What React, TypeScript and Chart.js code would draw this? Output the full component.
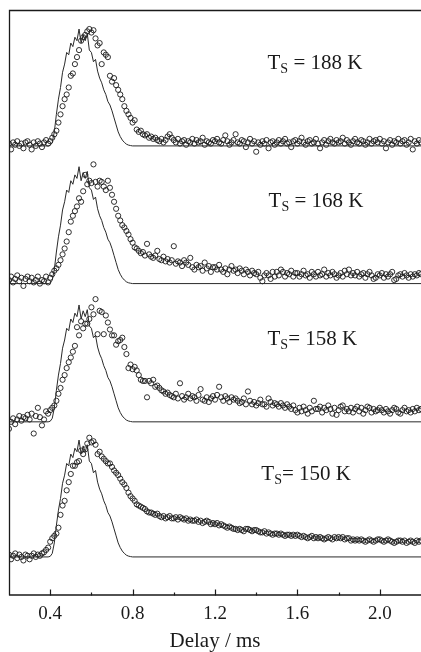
import React, { useEffect, useRef } from "react";
import { Chart, registerables } from "chart.js";

Chart.register(...registerables);

// ---- data ----
const panelLabels = ["188 K", "168 K", "158 K", "150 K"];
const panelEquals = [" = ", " = ", "= ", "= "];
const panelOffsets = [3.517, 2.339, 1.156, 0];

// circles are sampled on a regular delay grid (ms)
const delayStart = 0.2;
const delayStep = 0.01;

// incident pulse profile (solid line), same in every panel
const pulseDelay = [
  0.2, 0.39, 0.4, 0.41, 0.42, 0.43, 0.44, 0.45, 0.46, 0.47, 0.48, 0.49,
  0.5, 0.51, 0.52, 0.53, 0.54, 0.55, 0.56, 0.57, 0.58, 0.59,
  0.6, 0.61, 0.62, 0.63, 0.64, 0.65, 0.66, 0.67, 0.68, 0.69,
  0.7, 0.71, 0.72, 0.73, 0.74, 0.75, 0.76, 0.77, 0.78, 0.79, 0.8, 2.2,
];
const pulseValue = [
  0, 0, 0.005, 0.03, 0.12, 0.27, 0.4, 0.5, 0.63, 0.7, 0.8, 0.78,
  0.88, 0.85, 0.93, 0.9, 1.0, 0.88, 0.95, 0.9, 0.96, 0.82,
  0.8, 0.72, 0.74, 0.64, 0.58, 0.54, 0.48, 0.44, 0.38, 0.35,
  0.3, 0.24, 0.18, 0.12, 0.08, 0.05, 0.03, 0.015, 0.007, 0.003, 0, 0,
];

const signal188 = [
  0.02, -0.03, 0.03, 0.01, 0.04, 0.0, 0.02, -0.02, 0.03, 0.04,
  0.01, -0.03, 0.03, 0.0, 0.04, 0.02, -0.01, 0.03, 0.05, 0.02,
  0.04, 0.07, 0.1, 0.13, 0.2, 0.27, 0.34, 0.4, 0.44, 0.5,
  0.6, 0.62, 0.7, 0.76, 0.82, 0.9, 0.93, 0.95, 0.98, 1.0,
  0.97, 0.99, 0.92, 0.86, 0.88, 0.7, 0.8, 0.78, 0.76, 0.6,
  0.55, 0.58, 0.52, 0.48, 0.44, 0.4, 0.34, 0.3, 0.27, 0.24,
  0.2, 0.22, 0.14, 0.12, 0.13, 0.1, 0.09, 0.1, 0.07, 0.08,
  0.06, 0.07, 0.05, 0.04, 0.06, 0.03, 0.05, 0.08, 0.1, 0.07,
  0.05, 0.03, 0.06, 0.02, 0.04, 0.05, 0.01, 0.04, 0.03, 0.06,
  0.02, 0.05, 0.03, 0.04, 0.07, 0.01, 0.04, 0.03, 0.02, 0.05,
  0.04, 0.06, 0.03, 0.02, 0.05, 0.09, 0.04, 0.01, 0.03, 0.05,
  0.1, 0.03, 0.02, 0.05, 0.04, -0.01, 0.03, 0.06, 0.02, 0.04,
  -0.05, 0.03, 0.01, 0.04, 0.02, 0.05, -0.02, 0.03, 0.04, 0.01,
  0.03, 0.05, 0.02, 0.04, 0.06, 0.02, 0.03, -0.01, 0.04, 0.05,
  0.02, 0.04, 0.07, 0.03, 0.01, 0.04, 0.05, 0.02, 0.03, 0.06,
  0.02, -0.02, 0.03, 0.05, 0.01, 0.04, 0.06, 0.03, 0.02, 0.05,
  0.03, 0.04, 0.07, 0.02, 0.05, 0.03, 0.01, 0.04, 0.06, 0.03,
  0.02, 0.05, 0.04, 0.01, 0.03, 0.06, 0.02, 0.04, 0.05, 0.03,
  0.06, 0.02, 0.04, -0.02, 0.03, 0.05, 0.01, 0.04, 0.03, 0.06,
  0.02, 0.04, 0.05, 0.01, 0.03, 0.06, -0.03, 0.04, 0.02, 0.05,
  0.03,
];

const signal168 = [
  0.03, 0.06, 0.01, 0.04, 0.07, 0.02, 0.05, -0.02, 0.04, 0.06,
  0.02, 0.05, 0.01, 0.03, 0.06, 0.0, 0.03, 0.02, 0.06, 0.01,
  0.05, 0.08, 0.11, 0.13, 0.16, 0.2, 0.25, 0.3, 0.36, 0.44,
  0.53, 0.58, 0.62, 0.66, 0.73, 0.7, 0.79, 0.93, 0.85, 0.88,
  0.86, 1.02, 0.87, 0.83, 0.88, 0.87, 0.83, 0.8, 0.88, 0.82,
  0.76, 0.7, 0.64, 0.58, 0.54, 0.5, 0.48, 0.45, 0.42, 0.38,
  0.35, 0.31, 0.3, 0.28, 0.26, 0.27, 0.24, 0.34, 0.25, 0.23,
  0.22, 0.24, 0.28, 0.21, 0.2, 0.23, 0.19, 0.21, 0.18, 0.2,
  0.32, 0.17, 0.19, 0.18, 0.15, 0.2, 0.18, 0.16, 0.22, 0.14,
  0.12, 0.16, 0.14, 0.15, 0.11, 0.18, 0.13, 0.15, 0.1, 0.14,
  0.14, 0.12, 0.16, 0.12, 0.1, 0.13, 0.08, 0.12, 0.15, 0.11,
  0.12, 0.09, 0.13, 0.11, 0.08, 0.12, 0.1, 0.07, 0.11, 0.09,
  0.08, 0.1, 0.05, 0.02, 0.07, 0.09, 0.07, 0.04, 0.1, 0.06,
  0.1, 0.07, 0.12, 0.1, 0.06, 0.09, 0.08, 0.11, 0.06, 0.09,
  0.09, 0.06, 0.08, 0.11, 0.07, 0.08, 0.05, 0.1, 0.08, 0.06,
  0.1, 0.07, 0.08, 0.12, 0.06, 0.09, 0.07, 0.1, 0.08, 0.05,
  0.07, 0.09, 0.06, 0.11, 0.08, 0.12, 0.07, 0.09, 0.07, 0.1,
  0.06, 0.08, 0.09, 0.05, 0.08, 0.1, 0.07, 0.04, 0.05, 0.08,
  0.07, 0.09, 0.05, 0.08, 0.06, 0.08, 0.1, 0.03, 0.04, 0.07,
  0.08, 0.06, 0.09, 0.07, 0.05, 0.08, 0.06, 0.08, 0.07, 0.09,
  0.08,
];

const signal158 = [
  -0.06, 0.0, 0.03, -0.02, 0.02, 0.05, 0.01, 0.04, 0.03, 0.06,
  0.02, 0.07, -0.1, 0.05, 0.12, 0.04, -0.03, 0.02, 0.09, 0.07,
  0.1, 0.12, 0.14, 0.18, 0.24, 0.29, 0.36, 0.4, 0.46, 0.51,
  0.55, 0.6, 0.65, 0.81, 0.74, 0.86, 0.8, 0.84, 0.84, 0.88,
  0.98, 0.92, 1.05, 0.75, 0.95, 0.94, 0.75, 0.91, 0.85, 0.79,
  0.74, 0.74, 0.66, 0.69, 0.7, 0.72, 0.64, 0.58, 0.46, 0.49,
  0.45, 0.47, 0.44, 0.4, 0.36, 0.35, 0.35, 0.21, 0.35, 0.33,
  0.36, 0.3, 0.31, 0.29, 0.27, 0.26, 0.24, 0.25, 0.23, 0.22,
  0.21, 0.24, 0.2, 0.33, 0.22, 0.19, 0.21, 0.24, 0.2, 0.22,
  0.21, 0.18, 0.23, 0.28, 0.19, 0.18, 0.21, 0.17, 0.2, 0.22,
  0.19, 0.23, 0.3, 0.21, 0.18, 0.22, 0.2, 0.17, 0.21, 0.19,
  0.2, 0.18, 0.16, 0.17, 0.2, 0.15, 0.26, 0.18, 0.15, 0.17,
  0.14, 0.16, 0.19, 0.15, 0.15, 0.13, 0.2, 0.17, 0.14, 0.16,
  0.15, 0.13, 0.16, 0.14, 0.12, 0.15, 0.13, 0.11, 0.14, 0.1,
  0.08, 0.12, 0.09, 0.13, 0.1, 0.07, 0.12, 0.09, 0.18, 0.11,
  0.11, 0.13, 0.08, 0.12, 0.1, 0.14, 0.11, 0.07, 0.12, 0.06,
  0.1, 0.13, 0.14, 0.09, 0.11, 0.09, 0.12, 0.08, 0.11, 0.13,
  0.09, 0.12, 0.07, 0.1, 0.13, 0.12, 0.08, 0.11, 0.09, 0.1,
  0.12, 0.1, 0.08, 0.11, 0.09, 0.07, 0.1, 0.12, 0.11, 0.08,
  0.07, 0.1, 0.12, 0.09, 0.1, 0.08, 0.11, 0.09, 0.12, 0.1,
  0.11,
];

const signal150 = [
  0.02, -0.02, 0.01, 0.03, -0.01, 0.02, 0.0, -0.03, 0.02, 0.01,
  -0.02, 0.01, 0.03, 0.0, 0.02, 0.01, 0.03, 0.04, 0.06, 0.08,
  0.13, 0.16, 0.18, 0.2, 0.25, 0.36, 0.44, 0.48, 0.57, 0.64,
  0.71, 0.78, 0.78, 0.81, 0.82, 0.91, 0.88, 0.92, 0.97, 1.02,
  0.98, 0.99, 0.96, 0.88, 0.9, 0.86, 0.84, 0.82, 0.8, 0.8,
  0.77, 0.74, 0.72, 0.7, 0.67, 0.64, 0.62, 0.59, 0.55, 0.52,
  0.5, 0.48, 0.45, 0.44, 0.43, 0.42, 0.41, 0.39, 0.38, 0.38,
  0.37, 0.36, 0.37, 0.35, 0.34, 0.35, 0.33, 0.34, 0.35, 0.33,
  0.33, 0.34, 0.32, 0.34, 0.33, 0.32, 0.33, 0.31, 0.32, 0.31,
  0.31, 0.32, 0.3, 0.31, 0.29, 0.3, 0.31, 0.3, 0.28, 0.29,
  0.28, 0.29, 0.27, 0.28, 0.27, 0.26, 0.25, 0.26, 0.25, 0.24,
  0.24, 0.23, 0.24, 0.23, 0.22, 0.24, 0.24, 0.23, 0.22, 0.23,
  0.23, 0.22, 0.21, 0.21, 0.22, 0.2, 0.21, 0.2, 0.19, 0.2,
  0.2, 0.19, 0.2, 0.19, 0.18, 0.19, 0.19, 0.18, 0.19, 0.18,
  0.19, 0.18, 0.17, 0.18, 0.17, 0.16, 0.17, 0.18, 0.16, 0.17,
  0.16, 0.17, 0.16, 0.15, 0.16, 0.17, 0.16, 0.15, 0.17, 0.16,
  0.17, 0.16, 0.17, 0.15, 0.16, 0.16, 0.14, 0.15, 0.14, 0.15,
  0.14, 0.15, 0.14, 0.13, 0.14, 0.15, 0.14, 0.13, 0.14, 0.15,
  0.15, 0.14, 0.13, 0.14, 0.15, 0.14, 0.13, 0.12, 0.13, 0.14,
  0.14, 0.13, 0.14, 0.12, 0.13, 0.14, 0.13, 0.12, 0.14, 0.13,
  0.14,
];

const panelSignals = [signal188, signal168, signal158, signal150];

const xMin = 0.2;
const xMax = 2.2;
const yMin = -0.33;
const yMax = 4.68;
const majorTicks = [0.4, 0.8, 1.2, 1.6, 2.0];
const minorTicks = [0.6, 1.0, 1.4, 1.8];
const xTitle = "Delay / ms";

// annotation anchor (delay, height above each baseline)
const labelDelay = [1.455, 1.46, 1.455, 1.425];
const labelRise = 0.655;

const SERIF = '"Liberation Serif", "Times New Roman", serif';
const INK = "#1a1a1a";

const framePlugin = {
  id: "frameAndLabels",
  afterDraw(chart: any) {
    const { ctx, chartArea: a, scales } = chart;
    const xs = scales.x;
    const ys = scales.y;
    ctx.save();
    ctx.strokeStyle = INK;
    ctx.lineWidth = 1.3;
    ctx.beginPath();
    ctx.moveTo(a.left + 0.5, a.bottom);
    ctx.lineTo(a.left + 0.5, a.top + 0.5);
    ctx.lineTo(a.right, a.top + 0.5);
    ctx.moveTo(a.left, a.bottom - 0.5);
    ctx.lineTo(a.right, a.bottom - 0.5);
    ctx.stroke();
    ctx.lineWidth = 1.2;
    ctx.beginPath();
    majorTicks.forEach((v) => {
      const px = Math.round(xs.getPixelForValue(v)) + 0.5;
      ctx.moveTo(px, a.bottom);
      ctx.lineTo(px, a.bottom - 6);
    });
    minorTicks.forEach((v) => {
      const px = Math.round(xs.getPixelForValue(v)) + 0.5;
      ctx.moveTo(px, a.bottom);
      ctx.lineTo(px, a.bottom - 3);
    });
    ctx.stroke();

    ctx.fillStyle = INK;
    ctx.textBaseline = "alphabetic";
    ctx.textAlign = "left";
    panelLabels.forEach((lab, i) => {
      let x = xs.getPixelForValue(labelDelay[i]);
      const y = ys.getPixelForValue(panelOffsets[i] + labelRise);
      ctx.font = `21px ${SERIF}`;
      ctx.fillText("T", x, y);
      x += ctx.measureText("T").width;
      ctx.font = `14px ${SERIF}`;
      ctx.fillText("S", x, y + 4);
      x += ctx.measureText("S").width;
      ctx.font = `21px ${SERIF}`;
      ctx.fillText(panelEquals[i] + lab, x, y);
    });
    ctx.restore();
  },
};

export default function App() {
  const ref = useRef<HTMLCanvasElement | null>(null);

  useEffect(() => {
    if (!ref.current) return;
    const datasets: any[] = [];
    panelSignals.forEach((sig, i) => {
      const off = panelOffsets[i];
      datasets.push({
        type: "scatter",
        data: pulseDelay.map((d, j) => ({ x: d, y: pulseValue[j] + off })),
        showLine: true,
        borderColor: "#2a2a2a",
        borderWidth: 1,
        pointRadius: 0,
        tension: 0,
        fill: false,
      });
      datasets.push({
        type: "scatter",
        data: sig.map((v, j) => ({ x: delayStart + j * delayStep, y: v + off })),
        showLine: false,
        pointRadius: 2.6,
        pointBorderWidth: 0.9,
        borderColor: "#1a1a1a",
        backgroundColor: "rgba(0,0,0,0)",
        pointBackgroundColor: "rgba(0,0,0,0)",
        pointBorderColor: "#1a1a1a",
      });
    });

    const chart = new Chart(ref.current, {
      type: "scatter",
      data: { datasets },
      options: {
        animation: false,
        responsive: false,
        maintainAspectRatio: false,
        events: [],
        layout: { autoPadding: false, padding: { left: 9, top: 10, right: 0, bottom: 0.5 } },
        plugins: {
          legend: { display: false },
          tooltip: { enabled: false },
        },
        scales: {
          x: {
            type: "linear",
            min: xMin,
            max: xMax,
            afterBuildTicks: (scale: any) => {
              scale.ticks = majorTicks.map((v) => ({ value: v }));
            },
            grid: { display: false, drawTicks: false },
            border: { display: false },
            ticks: {
              autoSkip: false,
              maxRotation: 0,
              padding: 9,
              color: INK,
              font: { family: SERIF, size: 19, lineHeight: 1 },
              callback: (v: any) => Number(v).toFixed(1),
            },
            title: {
              display: true,
              text: xTitle,
              color: INK,
              font: { family: SERIF, size: 21, lineHeight: 1 },
              padding: { top: -2, bottom: 0 },
            },
          },
          y: {
            type: "linear",
            display: false,
            min: yMin,
            max: yMax,
          },
        },
      },
      plugins: [framePlugin],
    } as any);
    return () => chart.destroy();
  }, []);

  return (
    <div style={{ position: "absolute", left: 0, top: 0, width: 421, height: 652, background: "#fff" }}>
      <canvas ref={ref} width={421} height={652} style={{ display: "block", width: 421, height: 652 }} />
    </div>
  );
}
